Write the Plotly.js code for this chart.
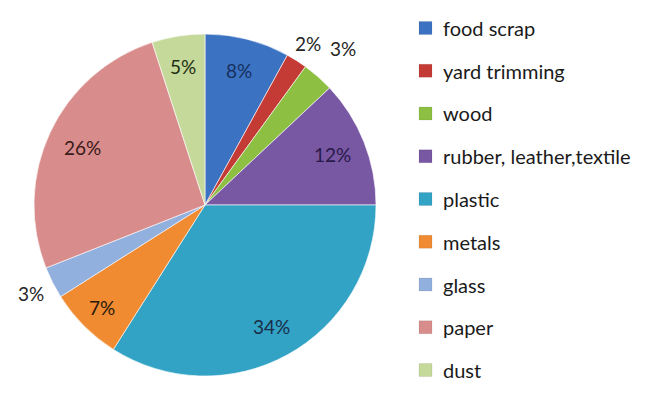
<!DOCTYPE html>
<html>
<head>
<meta charset="utf-8">
<script src="https://cdn.plot.ly/plotly-3.0.1.min.js"></script>
<style>html,body{margin:0;padding:0;background:#fff;}#chart{width:670px;height:397px;}</style>
</head>
<body>
<div id="chart"></div>
<script>
const categories = ['food scrap', 'yard trimming', 'wood', 'rubber, leather,textile', 'plastic', 'metals', 'glass', 'paper', 'dust'];
const values = [8, 2, 3, 12, 34, 7, 3, 26, 5];
const colors = ['#3B73C2', '#C43A35', '#8CBF42', '#7857A3', '#32A2C5', '#F08B32', '#92B0DE', '#D88C8B', '#C5D99B'];
const textColors = ['#16305e', '#262626', '#262626', '#2a1a4a', '#1a2e4a', '#2a1a0a', '#262626', '#3a1a1a', '#1e2e12'];
// radial position of each label, as a fraction of the pie radius (style, not data)
const labelRadius = [0.81, 1.12, 1.22, 0.80, 0.81, 0.85, 1.14, 0.79, 0.82];

const W = 670, H = 397;
const cx = 205, cy = 205, r = 171;

const trace = {
  type: 'pie',
  labels: categories,
  values: values,
  textinfo: 'none',
  sort: false,
  direction: 'clockwise',
  rotation: 0,
  marker: {colors: colors, line: {color: 'rgba(255,255,255,0.6)', width: 1}},
  domain: {x: [(cx - r) / W, (cx + r) / W], y: [(H - cy - r) / H, (H - cy + r) / H]},
  showlegend: false,
  hoverinfo: 'label+percent'
};

const total = values.reduce((a, b) => a + b, 0);
const shapes = [], annotations = [];

// slice labels, placed along each slice's mid-angle
let cum = 0;
values.forEach((v, i) => {
  const mid = (cum + v / 2) / total * 2 * Math.PI;
  cum += v;
  const R = r * labelRadius[i];
  const px = cx + R * Math.sin(mid);
  const py = cy - R * Math.cos(mid);
  annotations.push({
    xref: 'paper', yref: 'paper', x: px / W, y: (H - py) / H,
    xanchor: 'center', yanchor: 'middle', showarrow: false,
    text: Math.round(v / total * 100) + '%',
    font: {family: 'Lato, sans-serif', size: 19, color: textColors[i]}
  });
});

// legend
const legendX = 419, legendY0 = 28, legendStep = 42.75, sw = 13;
categories.forEach((c, i) => {
  const y = legendY0 + i * legendStep;
  shapes.push({
    type: 'rect', xref: 'paper', yref: 'paper',
    x0: legendX / W, x1: (legendX + sw) / W,
    y0: (H - y - sw / 2) / H, y1: (H - y + sw / 2) / H,
    fillcolor: colors[i], line: {color: 'rgba(0,0,0,0.15)', width: 0.5}
  });
  annotations.push({
    xref: 'paper', yref: 'paper', x: (legendX + sw + 9) / W, y: (H - y) / H,
    xanchor: 'left', yanchor: 'middle', showarrow: false,
    text: c, font: {family: 'Lato, sans-serif', size: 20, color: '#1a1a1a'}
  });
});

const layout = {
  width: W, height: H,
  margin: {l: 0, r: 0, t: 0, b: 0},
  paper_bgcolor: '#fff',
  showlegend: false,
  shapes: shapes,
  annotations: annotations
};

Plotly.newPlot('chart', [trace], layout, {displayModeBar: false, staticPlot: true});
</script>
</body>
</html>
